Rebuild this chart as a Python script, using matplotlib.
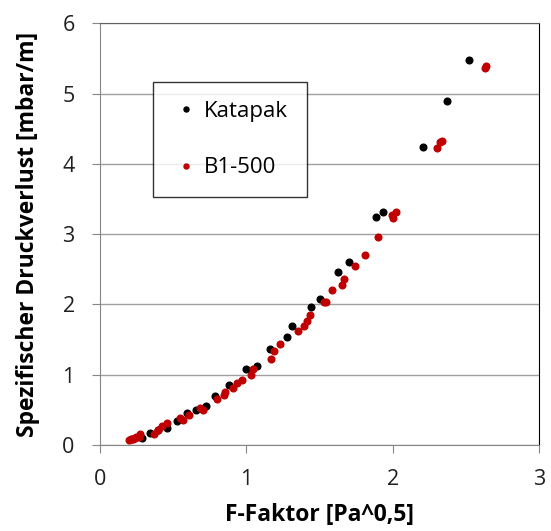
import matplotlib
matplotlib.use("Agg")
import matplotlib.pyplot as plt
import numpy as np

# Katapak (black)
kat_x = [0.287, 0.343, 0.40, 0.461, 0.53, 0.594, 0.657, 0.728, 0.789, 0.885,
         1.0, 1.076, 1.162, 1.276, 1.315, 1.442, 1.506, 1.629, 1.70, 1.888,
         1.934, 2.205, 2.371, 2.519]
kat_y = [0.10, 0.175, 0.22, 0.246, 0.346, 0.46, 0.50, 0.555, 0.70, 0.85,
         1.077, 1.13, 1.36, 1.54, 1.69, 1.97, 2.08, 2.465, 2.61, 3.24,
         3.31, 4.24, 4.90, 5.476]

# B1-500 (red)
b1_x = [0.20, 0.21, 0.22, 0.23, 0.24, 0.25, 0.265, 0.275, 0.373, 0.40, 0.423,
        0.461, 0.55, 0.571, 0.612, 0.685, 0.707, 0.80, 0.85, 0.858, 0.908,
        0.935, 0.969, 1.031, 1.049, 1.171, 1.192, 1.233, 1.351, 1.395, 1.417,
        1.436, 1.53, 1.543, 1.586, 1.652, 1.666, 1.74, 1.809, 1.90, 1.997,
        2.0, 2.02, 2.30, 2.32, 2.336, 2.627, 2.637]
b1_y = [0.07, 0.08, 0.09, 0.08, 0.10, 0.12, 0.11, 0.15, 0.15, 0.22, 0.27,
        0.31, 0.38, 0.355, 0.42, 0.52, 0.50, 0.65, 0.71, 0.76, 0.81,
        0.886, 0.925, 0.99, 1.077, 1.23, 1.34, 1.43, 1.62, 1.70, 1.77,
        1.85, 2.04, 2.04, 2.20, 2.27, 2.36, 2.55, 2.70, 2.96, 3.27,
        3.23, 3.31, 4.23, 4.31, 4.33, 5.37, 5.40]

plt.rcParams['font.family'] = ['Open Sans', 'DejaVu Sans']

fig = plt.figure(figsize=(5.51, 5.31), dpi=100)
ax = fig.add_axes([0.181, 0.162, 0.798, 0.794])

ax.plot(kat_x, kat_y, 'o', color='black', markersize=4.8, label='Katapak', zorder=3)
ax.plot(b1_x, b1_y, 'o', color='#c00000', markersize=4.8, label='B1-500', zorder=3)

ax.set_xlim(0, 3)
ax.set_ylim(0, 6)
ax.set_xticks([0, 1, 2, 3])
ax.set_yticks([0, 1, 2, 3, 4, 5, 6])
ax.yaxis.grid(True, color='#a0a0a0', linewidth=1)
ax.set_axisbelow(True)

for s in ['left', 'bottom']:
    ax.spines[s].set_color('#868686')
ax.spines['top'].set_color('#606060')
ax.spines['right'].set_color('black')
ax.tick_params(axis='both', direction='out', length=6, color='#868686',
               labelsize=15.5, labelcolor='#202020')
ax.tick_params(axis='y', pad=12)
ax.tick_params(axis='x', pad=11)

ax.set_xlabel('F-Faktor [Pa^0,5]', fontsize=16.5, fontweight='bold', labelpad=10)
ax.set_ylabel('Spezifischer Druckverlust [mbar/m]', fontsize=16.5, fontweight='bold', labelpad=16)

leg = ax.legend(loc='upper left', bbox_to_anchor=(0.121, 0.861), fontsize=16,
                frameon=True, fancybox=False, edgecolor='black', markerscale=0.75,
                handletextpad=0.15, labelspacing=1.6, borderpad=0.85, handlelength=1.3,
                borderaxespad=0)
leg.get_frame().set_linewidth(1)

fig.savefig('out.png', dpi=100)
